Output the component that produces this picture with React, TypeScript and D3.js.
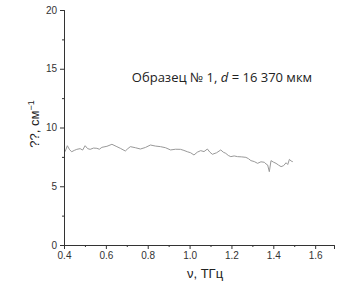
import React, { useEffect, useRef } from "react";
import * as d3 from "d3";

// frequency, THz
const freq = [
  0.405, 0.416, 0.427, 0.437, 0.449, 0.461, 0.477, 0.489, 0.501, 0.513, 0.525,
  0.541, 0.557, 0.569, 0.581, 0.605, 0.629, 0.649, 0.669, 0.693, 0.705, 0.717,
  0.741, 0.765, 0.789, 0.813, 0.837, 0.861, 0.885, 0.909, 0.933, 0.957, 0.973,
  0.989, 1.005, 1.021, 1.037, 1.053, 1.069, 1.085, 1.097, 1.109, 1.129, 1.149,
  1.161, 1.173, 1.185, 1.197, 1.213, 1.229, 1.249, 1.269, 1.281, 1.293, 1.309,
  1.325, 1.341, 1.357, 1.365, 1.373, 1.381, 1.389, 1.401, 1.413, 1.425, 1.437,
  1.449, 1.461, 1.469, 1.477, 1.485, 1.493,
];
// absorption, cm^-1
const alpha = [
  7.94, 8.45, 8.1, 7.94, 8.05, 8.14, 8.2, 8.08, 8.45, 8.2, 8.14, 8.25, 8.23,
  8.15, 8.31, 8.4, 8.57, 8.4, 8.23, 8.0, 8.2, 8.37, 8.28, 8.17, 8.3, 8.51,
  8.42, 8.37, 8.28, 8.09, 8.15, 8.14, 8.05, 7.94, 7.85, 7.66, 7.9, 8.03, 7.95,
  8.17, 7.9, 7.72, 7.85, 8.09, 7.9, 7.8, 7.62, 7.52, 7.58, 7.52, 7.5, 7.46,
  7.35, 7.18, 7.1, 6.95, 7.08, 7.04, 6.9, 6.81, 6.24, 7.18, 7.05, 6.95, 6.8,
  6.67, 6.75, 7.0, 6.85, 7.29, 7.15, 7.09,
];

const xTicks = [0.4, 0.6, 0.8, 1.0, 1.2, 1.4, 1.6];
const yTicks = [0, 5, 10, 15, 20];

const W = 342;
const H = 294;
const margin = { top: 10, right: 8, bottom: 49, left: 64 };

const App = () => {
  const xAxisRef = useRef<SVGGElement>(null);
  const yAxisRef = useRef<SVGGElement>(null);

  const x = d3.scaleLinear().domain([0.4, 1.69]).range([margin.left, W - margin.right]);
  const y = d3.scaleLinear().domain([0, 20]).range([H - margin.bottom, margin.top]);

  const data = freq.map((f, i) => [f, alpha[i]] as [number, number]);
  const line = d3
    .line<[number, number]>()
    .x((d) => x(d[0]))
    .y((d) => y(d[1]));

  useEffect(() => {
    const xa = d3.select(xAxisRef.current);
    xa.selectAll("*").remove();
    // minor ticks
    xa.append("g").call(
      d3.axisBottom(x).tickValues(d3.range(0.5, 1.7, 0.2)).tickSize(2).tickFormat(() => "")
    );
    xa.append("g").call(
      d3.axisBottom(x).tickValues(xTicks).tickSize(4).tickPadding(3).tickFormat(d3.format(".1f"))
    );
    xa.selectAll(".domain").attr("stroke", "#333");
    xa.selectAll("line").attr("stroke", "#333");
    xa.selectAll("text")
      .attr("font-family", "Liberation Sans, Arial, sans-serif")
      .attr("font-size", 10)
      .attr("fill", "#333");

    const ya = d3.select(yAxisRef.current);
    ya.selectAll("*").remove();
    ya.append("g").call(
      d3.axisLeft(y).tickValues([2.5, 7.5, 12.5, 17.5]).tickSize(2).tickFormat(() => "")
    );
    ya.append("g").call(
      d3.axisLeft(y).tickValues(yTicks).tickSize(4).tickPadding(3).tickFormat(d3.format("d"))
    );
    ya.selectAll(".domain").attr("stroke", "#333");
    ya.selectAll("line").attr("stroke", "#333");
    ya.selectAll("text")
      .attr("font-family", "Liberation Sans, Arial, sans-serif")
      .attr("font-size", 10)
      .attr("fill", "#333");
  }, []);

  return (
    <svg
      width={W}
      height={H}
      style={{ position: "absolute", left: 0, top: 0, background: "#fff" }}
    >
      <path d={line(data) || ""} fill="none" stroke="#999" strokeWidth={1} />
      <g ref={xAxisRef} transform={`translate(0,${H - margin.bottom})`} />
      <g ref={yAxisRef} transform={`translate(${margin.left},0)`} />
      <text
        x={205}
        y={278}
        textAnchor="middle"
        fontFamily="Liberation Sans, Arial, sans-serif"
        fontSize={13}
        fill="#222"
      >
        ν, ТГц
      </text>
      <text
        transform={`translate(39,124) rotate(-90)`}
        textAnchor="middle"
        fontFamily="Liberation Sans, Arial, sans-serif"
        fontSize={13}
        fill="#222"
      >
        ??, см
        <tspan dy={-5} fontSize={9}>−1</tspan>
      </text>
      <text
        x={222}
        y={82}
        textAnchor="middle"
        fontFamily="Open Sans, sans-serif"
        fontSize={13}
        fill="#222"
      >
        Образец № 1, <tspan fontStyle="italic">d</tspan> = 16 370 мкм
      </text>
    </svg>
  );
};

export default App;
